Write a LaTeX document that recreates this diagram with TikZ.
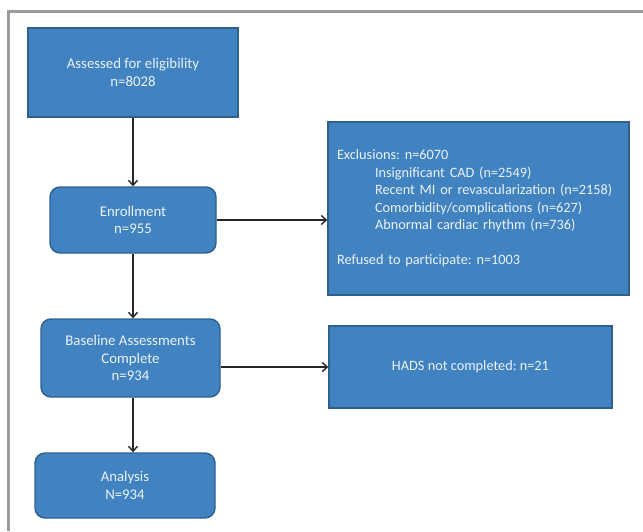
\documentclass[tikz,border=0pt]{standalone}
\usepackage{fontspec}
\setmainfont{Carlito}
\usetikzlibrary{arrows.meta}
\definecolor{boxfill}{RGB}{64,131,192}
\definecolor{boxline}{RGB}{46,96,140}
\definecolor{boxtext}{RGB}{236,242,250}
\definecolor{framegray}{RGB}{155,155,158}
\hfuzz=100pt
\tikzset{
  flowbox/.style={draw=boxline, line width=1.4pt, fill=boxfill, text=boxtext,
    align=center, font=\fontsize{14.8}{17.5}\selectfont, inner sep=0pt},
  roundbox/.style={flowbox, rounded corners=10pt},
  arr/.style={draw=black!85, line width=1.4pt, -{Straight Barb[length=5pt,width=9pt]}}
}
\begin{document}
\frenchspacing
\begin{tikzpicture}[x=1pt,y=-1pt]
\useasboundingbox (0,0) rectangle (643,531);
\draw[framegray, line width=2.5pt] (8.5,531) -- (8.5,11.5) -- (643,11.5);
\node[flowbox, minimum width=210pt, minimum height=89pt] (assess) at (133,72.5)
  {Assessed for eligibility\\n=8028};
\node[roundbox, minimum width=166pt, minimum height=66pt] (enroll) at (133,220)
  {Enrollment\\n=955};
\node[flowbox, minimum width=301pt, minimum height=173pt, align=left,
  text width=283pt, font=\fontsize{14.3}{17.5}\selectfont] (excl) at (478.5,208.5)
  {Exclusions: n=6070\\
   \hspace*{38pt}Insignificant CAD (n=2549)\\
   \hspace*{38pt}\mbox{Recent MI or revascularization (n=2158)}\\
   \hspace*{38pt}Comorbidity/complications (n=627)\\
   \hspace*{38pt}Abnormal cardiac rhythm (n=736)\\[17.5pt]
   Refused to participate: n=1003};
\node[roundbox, minimum width=179pt, minimum height=78pt] (base) at (130.5,358)
  {Baseline Assessments\\Complete\\n=934};
\node[flowbox, minimum width=283pt, minimum height=82pt, font=\fontsize{14.3}{17.5}\selectfont] (hads) at (470.5,367)
  {HADS not completed: n=21};
\node[roundbox, minimum width=180pt, minimum height=65pt] (ana) at (125,485.5)
  {Analysis\\N=934};
\draw[arr] (assess.south -| enroll) -- (enroll.north);
\draw[arr] (enroll.east) -- (excl.west |- enroll.east);
\draw[arr] (enroll.south) -- (enroll |- base.north);
\draw[arr] (base.east |- hads) -- (hads.west);
\draw[arr] (base.south -| enroll) -- (enroll |- ana.north);
\end{tikzpicture}
\end{document}
